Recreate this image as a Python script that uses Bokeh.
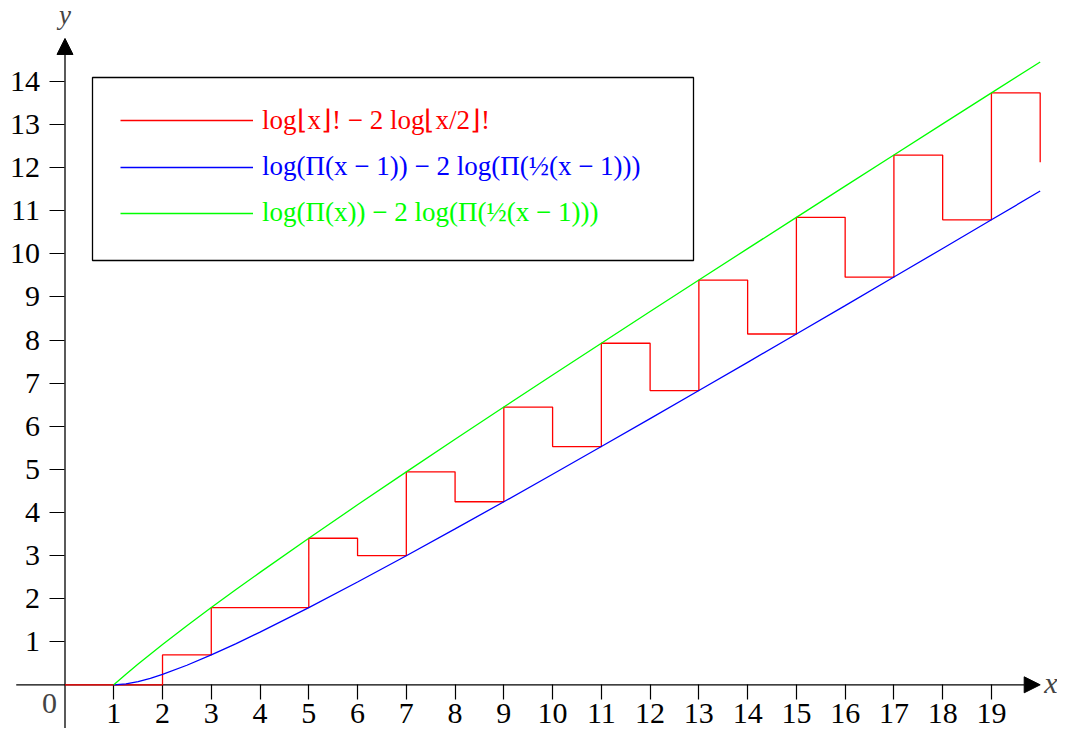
from bokeh.plotting import figure
from bokeh.models import (Range1d, FixedTicker, Legend, LegendItem, Label, Arrow,
                          NormalHead, BoxAnnotation, LinearAxis)
from bokeh.embed import file_html
from bokeh.resources import INLINE

# ---- data ----
red_x = list(range(21))
red_y = [0, 0, 0.693, 1.792, 1.792, 3.401, 2.996, 4.942, 4.248, 6.446, 5.529,
         7.927, 6.828, 9.393, 8.141, 10.849, 9.461, 12.294, 10.791, 13.735, 12.127]

curve_x = [1, 1.25, 1.5, 1.75, 2, 2.5, 3, 3.5, 4, 5, 6, 7, 8, 9, 10,
           11, 12, 13, 14, 15, 16, 17, 18, 19, 20]
blue_y = [0, 0.0218, 0.0758, 0.1512, 0.2416, 0.4535, 0.6931, 0.9512, 1.2224,
          1.7918, 2.3856, 2.9957, 3.6177, 4.2485, 4.8862, 5.5294, 6.1772,
          6.8286, 7.4835, 8.1408, 8.8008, 9.4627, 10.1264, 10.7918, 11.4586]
green_y = [0, 0.2449, 0.4812, 0.7108, 0.9347, 1.3698, 1.7918, 2.2040, 2.6087,
           3.4012, 4.1774, 4.9416, 5.6971, 6.4457, 7.1888, 7.9273, 8.6621,
           9.3935, 10.1226, 10.8489, 11.5734, 12.2959, 13.0168, 13.7362, 14.4543]

x_ticks = list(range(1, 20))
y_ticks = list(range(1, 15))

legend_labels = [
    "log\u230ax\u230b! \u2212 2 log\u230ax/2\u230b!",
    "log(\u03a0(x \u2212 1)) \u2212 2 log(\u03a0(\u00bd(x \u2212 1)))",
    "log(\u03a0(x)) \u2212 2 log(\u03a0(\u00bd(x \u2212 1)))",
]
series_colors = ["#ff0000", "#0000ff", "#00ff00"]

# ---- layout ----
W, H = 1057, 730
X0, X1 = -1.3228, 20.355
Y0, Y1 = -1.0606, 15.881
AX_XMIN, AX_XMAX = -1, 20
AX_YMIN, AX_YMAX = -1, 15
FONT = "Liberation Serif"


def px2x(px):
    return X0 + px / W * (X1 - X0)


def px2y(py):
    return Y1 - py / H * (Y1 - Y0)


p = figure(width=W, height=H, x_range=Range1d(X0, X1), y_range=Range1d(Y0, Y1),
           output_backend="svg", toolbar_location=None, min_border=0,
           x_axis_location=None, y_axis_location=None)
p.outline_line_color = None
p.xgrid.visible = False
p.ygrid.visible = False
p.background_fill_color = "white"
p.border_fill_color = "white"

xa = LinearAxis(fixed_location=0, ticker=FixedTicker(ticks=x_ticks))
ya = LinearAxis(fixed_location=0, ticker=FixedTicker(ticks=y_ticks))
for ax in (xa, ya):
    ax.axis_line_color = None
    ax.major_tick_in = 0
    ax.major_tick_out = 15
    ax.minor_tick_line_color = None
    ax.major_tick_line_color = "black"
    ax.major_tick_line_width = 1.2
    ax.major_label_text_font = FONT
    ax.major_label_text_font_size = "30px"
    ax.major_label_text_color = "black"
    ax.level = "underlay"
xa.major_label_standoff = 4
ya.major_label_standoff = 10
p.add_layout(xa, "below")
p.add_layout(ya, "left")

p.add_layout(Arrow(end=NormalHead(size=16, fill_color="black", line_color="black"),
                   x_start=AX_XMIN, y_start=0, x_end=AX_XMAX, y_end=0,
                   line_width=1.3, line_color="black", level="underlay"))
p.add_layout(Arrow(end=NormalHead(size=16, fill_color="black", line_color="black"),
                   x_start=0, y_start=AX_YMIN, x_end=0, y_end=AX_YMAX,
                   line_width=1.3, line_color="black", level="underlay"))

p.add_layout(Label(x=AX_XMAX, y=0, text="x", x_offset=4, y_offset=2, text_font=FONT,
                   text_font_style="italic", text_font_size="30px",
                   text_align="left", text_baseline="middle"))
p.add_layout(Label(x=0, y=AX_YMAX, text="y", y_offset=23, text_font=FONT,
                   text_font_style="italic", text_font_size="27px",
                   text_align="center", text_baseline="middle"))
p.add_layout(Label(x=0, y=0, text="0", x_offset=-15.5, y_offset=-18.5, text_font=FONT,
                   text_font_size="30px", text_align="center", text_baseline="middle"))

# legend frame
p.add_layout(BoxAnnotation(left=px2x(92), right=px2x(693), top=px2y(77), bottom=px2y(260),
                           fill_color="white", fill_alpha=1.0, line_color="black",
                           line_alpha=1.0, line_width=1.3, level="underlay"))

r_red = p.step(red_x, red_y, mode="after", line_color=series_colors[0], line_width=1.3)
r_blue = p.line(curve_x, blue_y, line_color=series_colors[1], line_width=1.3)
r_green = p.line(curve_x, green_y, line_color=series_colors[2], line_width=1.3)

row_centers = [121, 167, 213]
for lab, col, r, cy in zip(legend_labels, series_colors, [r_red, r_blue, r_green], row_centers):
    leg = Legend(items=[LegendItem(label=lab, renderers=[r])],
                 location=(120, H - cy - 15), orientation="vertical",
                 padding=0, margin=0, spacing=0, glyph_width=133, glyph_height=30,
                 label_height=30, label_standoff=9, label_text_font=FONT,
                 label_text_font_size="27px", label_text_color=col,
                 border_line_color=None, background_fill_alpha=0)
    p.add_layout(leg)

open("out.html", "w").write(file_html(p, INLINE))
